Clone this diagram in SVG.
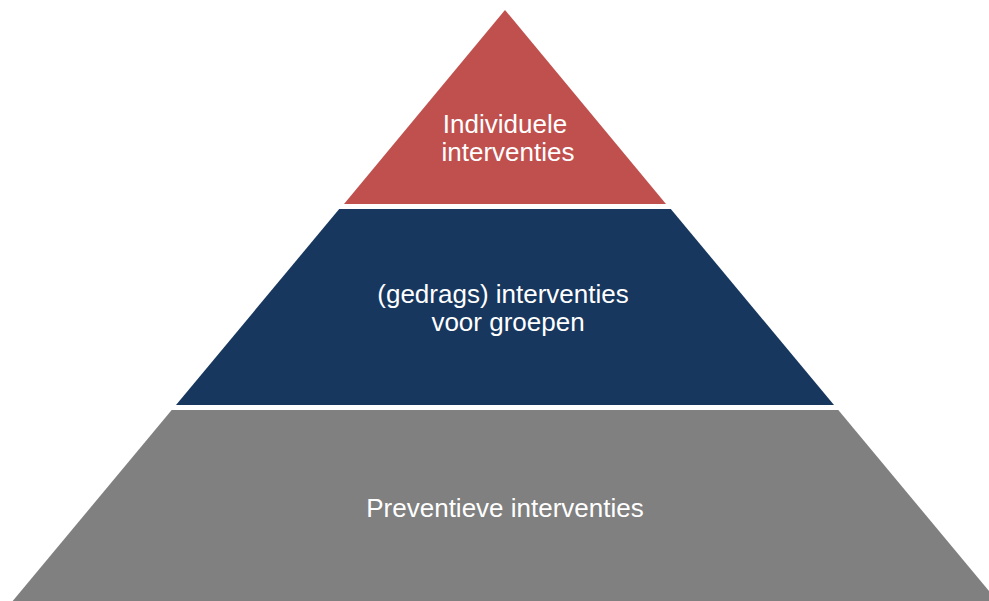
<svg xmlns="http://www.w3.org/2000/svg" width="989" height="601" viewBox="0 0 989 601">
<style>
  .lbl { font-family: "Liberation Sans", Arial, sans-serif; font-size: 26px; fill: #FFFFFF; text-anchor: middle; }
</style>
<rect x="0" y="0" width="989" height="601" fill="#FFFFFF"/>
<g id="level-top">
  <polygon points="505,10 666,204 344,204" fill="#C0504D"/>
  <text class="lbl" x="505" y="133">Individuele</text>
  <text class="lbl" x="508" y="161">interventies</text>
</g>
<g id="level-middle">
  <polygon points="339.2,209 670.8,209 834,405 176,405" fill="#17375E"/>
  <text class="lbl" x="503" y="303">(gedrags) interventies</text>
  <text class="lbl" x="508" y="331">voor groepen</text>
</g>
<g id="level-bottom">
  <polygon points="171.7,410 838.3,410 997.3,601 12.7,601" fill="#808080"/>
  <text class="lbl" x="505" y="517">Preventieve interventies</text>
</g>
<g id="connectors"></g>
</svg>
